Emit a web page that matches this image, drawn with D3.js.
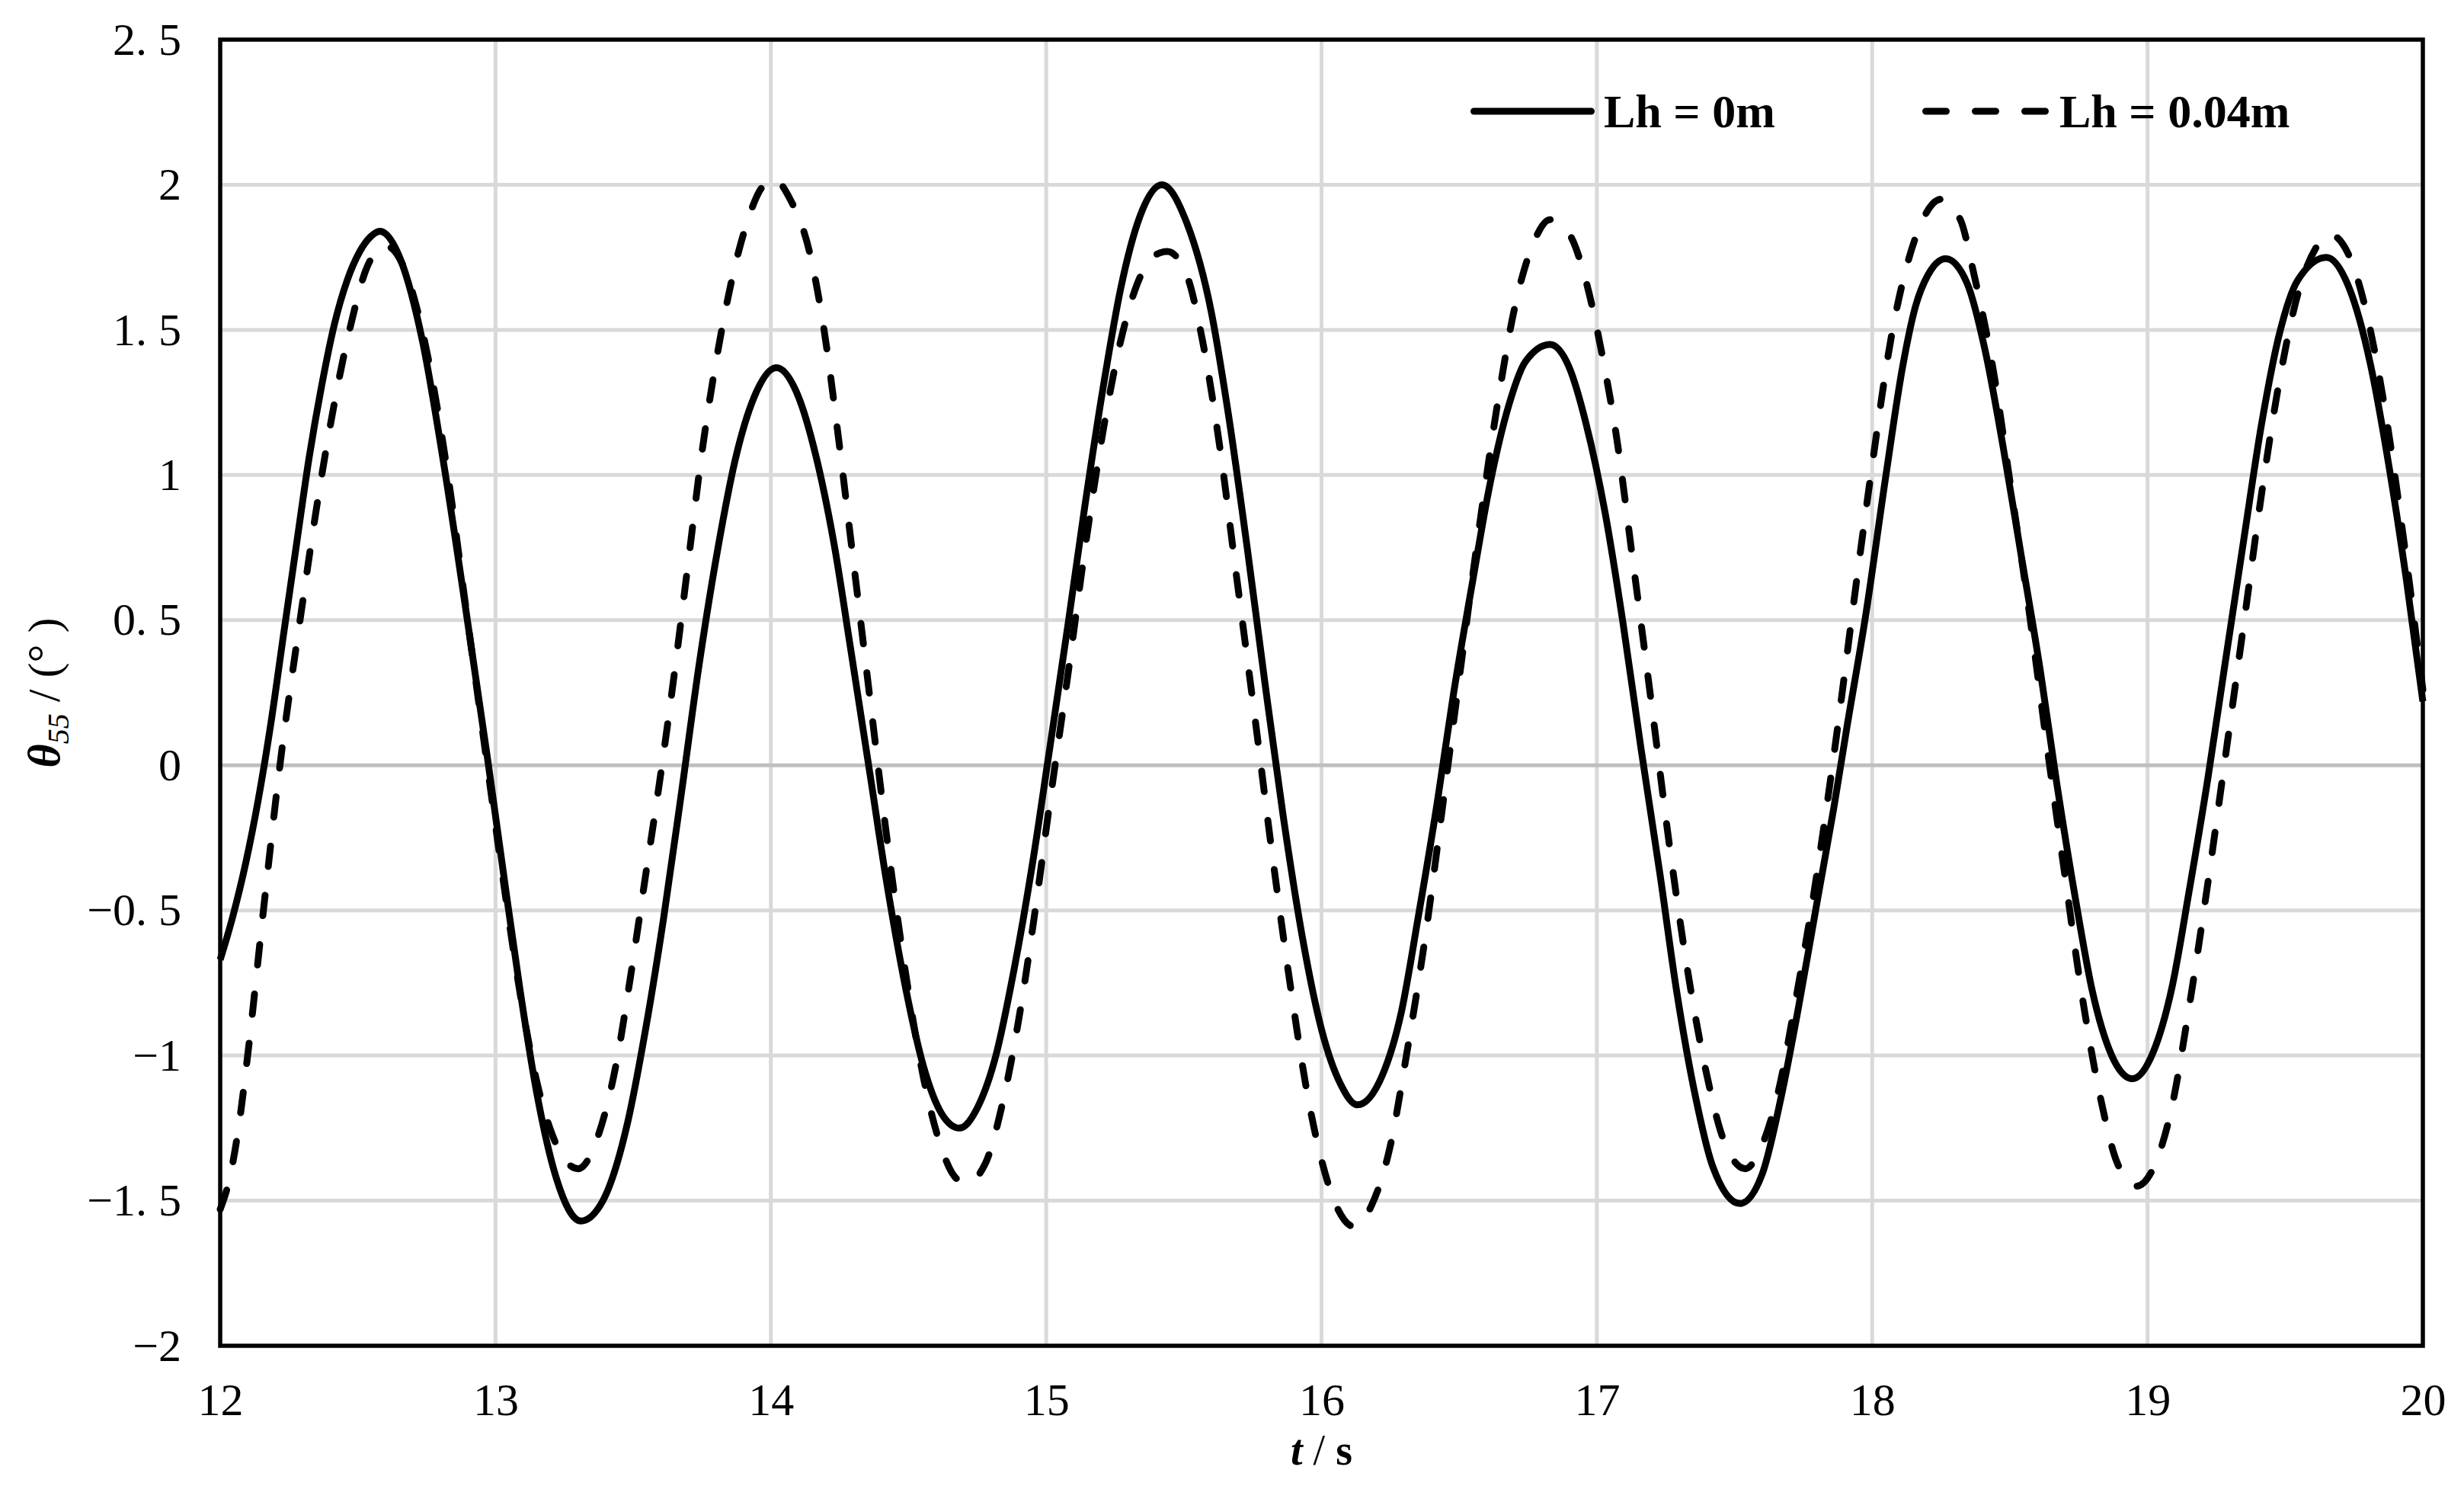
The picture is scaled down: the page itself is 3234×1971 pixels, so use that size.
<!DOCTYPE html>
<html><head><meta charset="utf-8">
<script src="https://cdn.jsdelivr.net/npm/d3@7/dist/d3.min.js"></script>
<style>body{margin:0;background:#fff}</style>
</head><body>
<svg id="chart" width="3234" height="1971"></svg>
<script>
// ---- data ----
const xTicks = [12, 13, 14, 15, 16, 17, 18, 19, 20];
const yTicks = [-2, -1.5, -1, -0.5, 0, 0.5, 1, 1.5, 2, 2.5];
const yTickLabels = ["−2", "−1. 5", "−1", "−0. 5", "0", "0. 5", "1", "1. 5", "2", "2. 5"];
const seriesNames = ["Lh = 0m", "Lh = 0.04m"];

const tSolid = [12.000,12.046,12.092,12.138,12.185,12.230,12.277,12.323,12.369,12.415,12.461,12.507,12.545,12.580,
  12.656,12.735,12.81,12.89,12.97,13.03,13.09,13.15,13.22,13.31,
  13.39,13.48,13.545,13.61,13.676,13.74,13.81,13.87,13.94,14.02,
  14.10,14.16,14.23,14.29,14.36,14.42,14.49,14.555,14.62,14.685,
  14.75,14.82,14.88,14.95,15.01,15.08,15.14,15.21,15.27,15.34,15.42,
  15.51,15.60,15.66,15.73,15.795,15.86,15.93,16.00,16.07,16.13,
  16.22,16.29,16.35,16.42,16.48,16.55,16.61,16.68,16.74,16.83,
  16.90,16.96,17.03,17.095,17.16,17.23,17.29,17.36,17.42,17.52,
  17.60,17.67,17.735,17.80,17.86,17.908,17.977,18.05,18.11,18.157,18.203,18.267,
  18.345,18.41,18.475,18.54,18.61,18.67,18.74,18.80,18.87,18.945,
  19.02,19.09,19.15,19.22,19.28,19.35,19.415,19.48,19.545,19.65,
  19.73,19.81,19.87,19.94,20.00];
const vSolid = [-0.67,-0.52,-0.34,-0.12,0.15,0.45,0.76,1.06,1.31,1.52,1.67,1.77,1.82,1.84,
  1.74,1.46,1.05,0.55,0.03,-0.38,-0.78,-1.13,-1.42,-1.57,
  -1.50,-1.23,-0.91,-0.53,-0.09,0.35,0.76,1.05,1.27,1.37,
  1.27,1.08,0.76,0.40,-0.03,-0.40,-0.77,-1.04,-1.20,-1.25,
  -1.18,-0.99,-0.72,-0.34,0.04,0.49,0.89,1.32,1.64,1.89,2.00,
  1.87,1.56,1.22,0.75,0.28,-0.17,-0.59,-0.91,-1.10,-1.17,
  -1.07,-0.85,-0.53,-0.13,0.25,0.64,0.96,1.24,1.39,1.45,
  1.37,1.18,0.87,0.49,0.06,-0.38,-0.78,-1.15,-1.38,-1.51,
  -1.41,-1.14,-0.82,-0.47,-0.15,0.13,0.52,1.00,1.37,1.58,1.69,1.745,
  1.66,1.43,1.10,0.73,0.33,-0.06,-0.47,-0.78,-1.00,-1.08,
  -0.99,-0.76,-0.44,-0.04,0.34,0.78,1.18,1.49,1.67,1.75,
  1.65,1.38,1.07,0.64,0.22];

const tDashed = [12.000,12.035,12.065,12.101,12.157,12.217,12.290,12.369,12.470,12.535,12.600,
  12.66,12.71,12.76,12.83,12.89,12.97,13.03,13.09,13.15,13.205,13.30,
  13.375,13.44,13.49,13.545,13.60,13.65,13.70,13.75,13.81,13.86,13.91,13.96,14.01,
  14.07,14.14,14.19,14.24,14.29,14.36,14.42,14.49,14.555,14.62,14.67,14.71,
  14.78,14.84,14.91,14.96,15.01,15.08,15.14,15.21,15.27,15.34,15.40,15.44,
  15.51,15.56,15.63,15.69,15.76,15.82,15.89,15.95,16.00,16.05,16.12,
  16.18,16.25,16.31,16.38,16.44,16.51,16.57,16.64,16.70,16.77,16.83,
  16.90,16.96,17.02,17.07,17.13,17.20,17.26,17.33,17.40,17.46,17.54,
  17.59,17.66,17.72,17.79,17.85,17.88,17.926,17.995,18.074,18.12,18.166,18.25,
  18.32,18.37,18.44,18.50,18.57,18.63,18.70,18.76,18.83,18.89,18.96,
  19.02,19.09,19.15,19.22,19.28,19.35,19.415,19.48,19.545,19.61,19.66,
  19.73,19.79,19.86,19.93,20.00];
const vDashed = [-1.53,-1.42,-1.26,-0.99,-0.50,0.00,0.50,1.00,1.50,1.72,1.79,
  1.73,1.59,1.38,0.98,0.56,0.00,-0.41,-0.79,-1.09,-1.27,-1.39,
  -1.27,-1.02,-0.73,-0.38,-0.03,0.32,0.70,1.08,1.44,1.68,1.86,1.98,2.02,
  1.95,1.77,1.52,1.17,0.78,0.23,-0.24,-0.72,-1.08,-1.32,-1.42,-1.44,
  -1.37,-1.17,-0.82,-0.50,-0.15,0.32,0.74,1.17,1.46,1.68,1.76,1.77,
  1.69,1.50,1.10,0.66,0.15,-0.30,-0.78,-1.14,-1.36,-1.51,-1.59,
  -1.52,-1.31,-0.99,-0.57,-0.14,0.37,0.80,1.25,1.57,1.80,1.88,
  1.83,1.67,1.41,1.14,0.71,0.20,-0.25,-0.71,-1.07,-1.29,-1.39,
  -1.33,-1.12,-0.82,-0.43,-0.04,0.17,0.51,1.00,1.50,1.70,1.84,1.95,
  1.88,1.69,1.36,0.98,0.53,0.10,-0.38,-0.78,-1.15,-1.37,-1.45,
  -1.39,-1.17,-0.84,-0.40,0.01,0.49,0.94,1.33,1.62,1.78,1.83,
  1.76,1.58,1.24,0.78,0.26];

// ---- layout ----
const W = 3234, H = 1971;
const L = 289, R = 3180, T = 52, B = 1766;
const svg = d3.select("#chart");
svg.append("rect").attr("width", W).attr("height", H).attr("fill", "#fff");

const x = d3.scaleLinear().domain([12, 20]).range([L, R]);
const y = d3.scaleLinear().domain([-2, 2.5]).range([B, T]);

const serif = "'Liberation Serif','Times New Roman',serif";

// gridlines
const grid = svg.append("g");
grid.selectAll("line.v").data(xTicks.slice(1, -1)).join("line")
  .attr("x1", d => x(d)).attr("x2", d => x(d)).attr("y1", T).attr("y2", B)
  .attr("stroke", "#d9d9d9").attr("stroke-width", 5);
grid.selectAll("line.h").data(yTicks.filter(d => d !== 0 && d > -2 && d < 2.5)).join("line")
  .attr("x1", L).attr("x2", R).attr("y1", d => y(d)).attr("y2", d => y(d))
  .attr("stroke", "#d9d9d9").attr("stroke-width", 5);
grid.append("line").attr("x1", L).attr("x2", R).attr("y1", y(0)).attr("y2", y(0))
  .attr("stroke", "#bfbfbf").attr("stroke-width", 5);

// axes (labels)
const xAxis = svg.append("g").attr("transform", `translate(0,${B})`)
  .call(d3.axisBottom(x).tickValues(xTicks).tickFormat(d => String(d)).tickSize(0).tickPadding(48));
const yAxis = svg.append("g").attr("transform", `translate(${L},0)`)
  .call(d3.axisLeft(y).tickValues(yTicks).tickFormat((d, i) => yTickLabels[i]).tickSize(0).tickPadding(51));
[xAxis, yAxis].forEach(a => {
  a.select(".domain").remove();
  a.selectAll("text").attr("font-family", serif).attr("font-size", 60).attr("fill", "#000");
});

// series
const line = d3.line().x(d => x(d[0])).y(d => y(d[1])).curve(d3.curveMonotoneX);
const solidData = tSolid.map((t, i) => [t, vSolid[i]]);
const dashedData = tDashed.map((t, i) => [t, vDashed[i]]);

svg.append("path").datum(dashedData).attr("d", line)
  .attr("fill", "none").attr("stroke", "#000").attr("stroke-width", 9)
  .attr("stroke-linecap", "round").attr("stroke-dasharray", "27,38");
svg.append("path").datum(solidData).attr("d", line)
  .attr("fill", "none").attr("stroke", "#000").attr("stroke-width", 9)
  .attr("stroke-linejoin", "round");

// border
svg.append("rect").attr("x", L).attr("y", T).attr("width", R - L).attr("height", B - T)
  .attr("fill", "none").attr("stroke", "#000").attr("stroke-width", 5.5);

// legend
const legY = 146;
const leg = svg.append("g");
leg.append("line").attr("x1", 1934.5).attr("x2", 2088.5).attr("y1", legY).attr("y2", legY)
  .attr("stroke", "#000").attr("stroke-width", 9).attr("stroke-linecap", "round");
leg.append("text").attr("x", 2105).attr("y", legY + 21).text(seriesNames[0])
  .attr("font-family", serif).attr("font-weight", "bold").attr("font-size", 62);
leg.append("line").attr("x1", 2527.5).attr("x2", 2684.5).attr("y1", legY).attr("y2", legY)
  .attr("stroke", "#000").attr("stroke-width", 9).attr("stroke-linecap", "round")
  .attr("stroke-dasharray", "27,38");
leg.append("text").attr("x", 2703).attr("y", legY + 21).text(seriesNames[1])
  .attr("font-family", serif).attr("font-weight", "bold").attr("font-size", 62);

// axis titles
const xt = svg.append("text").attr("x", (L + R) / 2).attr("y", 1922).attr("text-anchor", "middle")
  .attr("font-family", serif).attr("font-size", 56).attr("font-weight", "bold");
xt.append("tspan").attr("font-style", "italic").text("t");
xt.append("tspan").attr("font-weight", "normal").text(" / ");
xt.append("tspan").text("s");

const yt = svg.append("text").attr("transform", `translate(78,${(T + B) / 2}) rotate(-90)`)
  .attr("text-anchor", "middle").attr("font-family", serif).attr("font-size", 60);
yt.append("tspan").attr("font-style", "italic").attr("font-weight", "bold").text("θ");
yt.append("tspan").attr("font-style", "italic").attr("font-size", 40).attr("dy", 12).text("55");
yt.append("tspan").attr("dy", -12).text(" / (°  )");
</script>
</body></html>
